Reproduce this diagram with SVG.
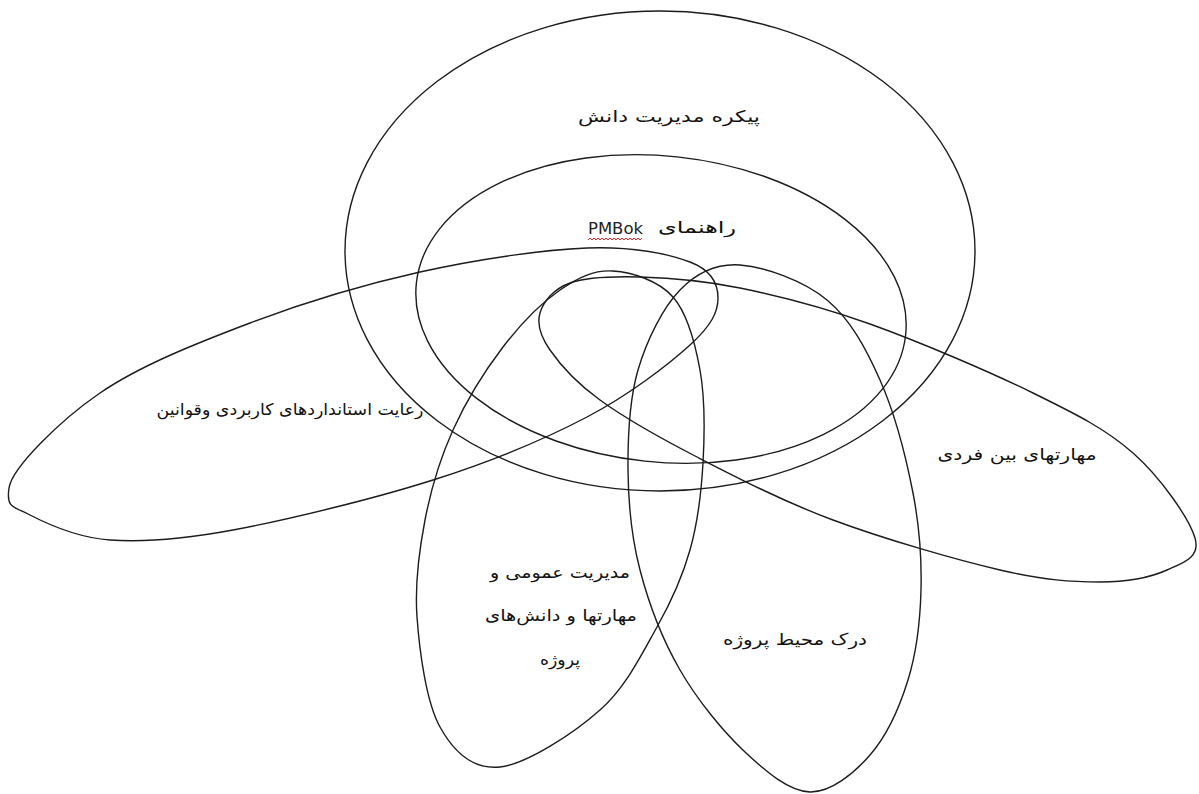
<svg xmlns="http://www.w3.org/2000/svg" width="1199" height="794" viewBox="0 0 1199 794">
<style>
.s{fill:none;stroke:#1c1c1c;stroke-width:1.4}
.t{font-family:"DejaVu Sans",sans-serif;font-size:16px;fill:#111;text-anchor:middle;direction:rtl}
.l{font-family:"DejaVu Sans",sans-serif;font-size:16px;fill:#222;text-anchor:start}
.sq{fill:none;stroke:#e03030;stroke-width:1}
</style>
<rect width="1199" height="794" fill="#fff"/>
<g id="knowledge-body">
<ellipse class="s" cx="660" cy="251" rx="315" ry="240"/>
<text class="t" x="669" y="122" textLength="182" lengthAdjust="spacingAndGlyphs">پیکره مدیریت دانش</text>
</g>
<g id="pmbok-guide">
<ellipse class="s" cx="661" cy="309" rx="246" ry="153" transform="rotate(6 661 309)"/>
<text class="t" x="697" y="233" textLength="78" lengthAdjust="spacingAndGlyphs">راهنمای</text>
<text class="l" x="588" y="234" textLength="55" lengthAdjust="spacingAndGlyphs">PMBok</text>
<path class="sq" d="M588,240 l2,-2 l2,2 l2,-2 l2,2 l2,-2 l2,2 l2,-2 l2,2 l2,-2 l2,2 l2,-2 l2,2 l2,-2 l2,2 l2,-2 l2,2 l2,-2 l2,2 l2,-2 l2,2 l2,-2 l2,2 l2,-2 l2,2 l2,-2 l2,2 l2,-2"/>
</g>
<g id="standards">
<path class="s" d="M9,488 C12,468 59.8,420.5 100,393 C140.2,365.5 196.7,343.2 250,323 C303.3,302.8 363.8,284.5 420,272 C476.2,259.5 542,249.7 587,248 C632,246.3 668.2,253.7 690,262 C711.8,270.3 718,284.2 718,298 C718,311.8 711.8,325.2 690,345 C668.2,364.8 629.8,394.5 587,417 C544.2,439.5 492,461.2 433,480 C374,498.8 286.8,520 233,530 C179.2,540 143.8,542.5 110,540 C76.2,537.5 46.8,523.7 30,515 C13.2,506.3 6,508 9,488 Z"/>
<text class="t" x="290" y="415" textLength="267" lengthAdjust="spacingAndGlyphs">رعایت استانداردهای کاربردی وقوانین</text>
</g>
<g id="interpersonal">
<path class="s" d="M540,313 C543.3,301.8 553.3,289 570,283 C586.7,277 611.7,276.2 640,277 C668.3,277.8 701.7,280.2 740,288 C778.3,295.8 821.2,306.5 870,324 C918.8,341.5 989.2,371.5 1033,393 C1076.8,414.5 1105.5,428.8 1133,453 C1160.5,477.2 1189.3,518.5 1195,538 C1200.7,557.5 1183.3,562.7 1167,570 C1150.7,577.3 1127.8,582 1100,582 C1072.2,582 1044.5,580.3 1000,570 C955.5,559.7 883.5,538.8 833,520 C782.5,501.2 735.8,477 697,457 C658.2,437 624.5,417.8 600,400 C575.5,382.2 560,364.5 550,350 C540,335.5 536.7,324.2 540,313 Z"/>
<text class="t" x="1017" y="460" textLength="159" lengthAdjust="spacingAndGlyphs">مهارتهای بین فردی</text>
</g>
<g id="general-management">
<path class="s" d="M613,271 C631.8,272.2 658.5,280.5 673,297 C687.5,313.5 695,342.3 700,370 C705,397.7 704.7,433 703,463 C701.3,493 697.7,522.7 690,550 C682.3,577.3 672,600.3 657,627 C642,653.7 626.2,686.7 600,710 C573.8,733.3 526.7,764.2 500,767 C473.3,769.8 453.8,752 440,727 C426.2,702 419.5,651.5 417,617 C414.5,582.5 419,551.2 425,520 C431,488.8 440,458.8 453,430 C466,401.2 485.2,370.3 503,347 C520.8,323.7 541.7,302.7 560,290 C578.3,277.3 594.2,269.8 613,271 Z"/>
<text class="t" x="560" y="578" textLength="140" lengthAdjust="spacingAndGlyphs">مدیریت عمومی و</text>
<text class="t" x="561" y="621" textLength="152" lengthAdjust="spacingAndGlyphs">مهارتها و دانش‌های</text>
<text class="t" x="560" y="665" textLength="40" lengthAdjust="spacingAndGlyphs">پروژه</text>
</g>
<g id="project-environment">
<path class="s" d="M740,265 C764.5,266.7 803.7,280.8 827,300 C850.3,319.2 865.7,347.8 880,380 C894.3,412.2 906.2,458 913,493 C919.8,528 921.8,558.8 921,590 C920.2,621.2 916.5,652.5 908,680 C899.5,707.5 886.3,736.3 870,755 C853.7,773.7 830.8,792.5 810,792 C789.2,791.5 766.7,772.3 745,752 C723.3,731.7 697.5,700.3 680,670 C662.5,639.7 648.7,603.3 640,570 C631.3,536.7 628.3,503.3 628,470 C627.7,436.7 629.3,400 638,370 C646.7,340 663,307.5 680,290 C697,272.5 715.5,263.3 740,265 Z"/>
<text class="t" x="795" y="645" textLength="144" lengthAdjust="spacingAndGlyphs">درک محیط پروژه</text>
</g>
<g id="connectors"/>
</svg>
